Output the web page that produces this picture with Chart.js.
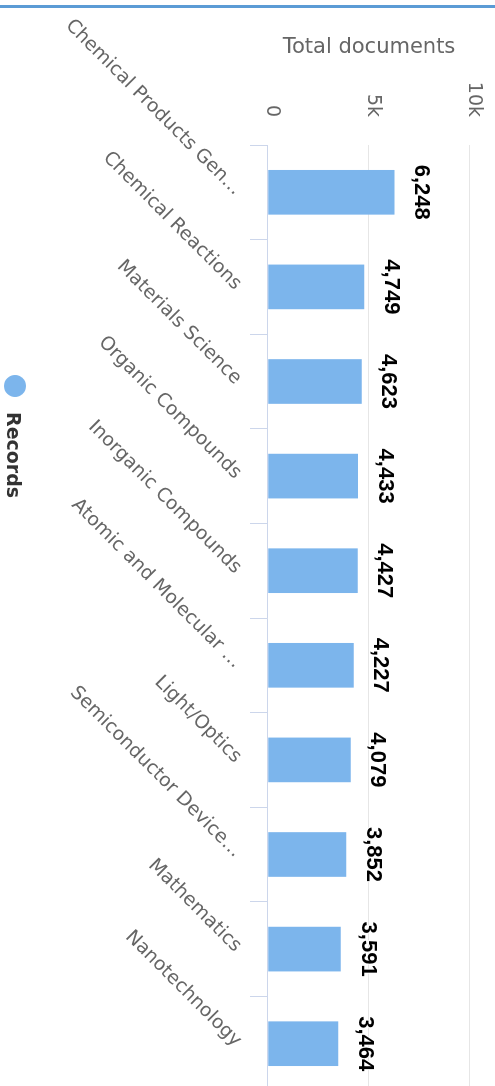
<!DOCTYPE html>
<html><head><meta charset="utf-8">
<script src="https://cdn.jsdelivr.net/npm/chart.js@4.4.0/dist/chart.umd.min.js"></script>
<style>
html,body{margin:0;padding:0;background:#fff;overflow:hidden;width:495px;height:1086px;}
#rot{position:absolute;left:0;top:0;width:1100px;height:495px;transform-origin:0 0;transform:translate(495px,0) rotate(90deg);}
#c{position:absolute;left:0;top:0;}
#legend{position:absolute;left:375px;top:469px;height:22px;font:bold 19px "DejaVu Sans";color:#333;white-space:nowrap;}
#legend .dot{position:absolute;left:0;top:0;width:22px;height:22px;border-radius:50%;background:#7cb5ec;}
#legend .txt{position:absolute;left:37px;top:1px;line-height:22px;}
#topline{position:absolute;left:0;top:5px;width:495px;height:3px;background:#5b9bd5;}
</style></head>
<body>
<div id="rot"><canvas id="c" width="1100" height="495"></canvas>
<div id="legend"><span class="dot"></span><span class="txt" id="legtxt"></span></div></div>
<div id="topline"></div>
<script>
const categories = [
  'Chemical Products Gen…',
  'Chemical Reactions',
  'Materials Science',
  'Organic Compounds',
  'Inorganic Compounds',
  'Atomic and Molecular …',
  'Light/Optics',
  'Semiconductor Device…',
  'Mathematics',
  'Nanotechnology'
];
const records = [6248, 4749, 4623, 4433, 4427, 4227, 4079, 3852, 3591, 3464];
const valueTicks = [0, 5000, 10000];
const seriesName = 'Records';
const axisTitle = 'Total documents';

document.getElementById('legtxt').textContent = seriesName;

const FONT = 'DejaVu Sans';

const dataLabels = {
  id: 'dataLabels',
  afterDatasetsDraw(chart) {
    const ctx = chart.ctx;
    const meta = chart.getDatasetMeta(0);
    ctx.save();
    ctx.font = 'bold 22px "Liberation Sans"';
    ctx.textAlign = 'center';
    ctx.textBaseline = 'alphabetic';
    ctx.lineJoin = 'round';
    meta.data.forEach((bar, i) => {
      const txt = records[i].toLocaleString('en-US');
      ctx.strokeStyle = '#fff';
      ctx.lineWidth = 2;
      ctx.strokeText(txt, bar.x, bar.y - 21);
      ctx.fillStyle = '#000';
      ctx.fillText(txt, bar.x, bar.y - 21);
    });
    ctx.restore();
  }
};

new Chart(document.getElementById('c'), {
  type: 'bar',
  data: {
    labels: categories,
    datasets: [{
      label: seriesName,
      data: records,
      backgroundColor: '#7cb5ec',
      borderWidth: 0,
      barThickness: 44,
      categoryPercentage: 1,
      barPercentage: 0.47
    }]
  },
  options: {
    responsive: false,
    animation: false,
    devicePixelRatio: 1,
    layout: { padding: { left: 0, right: 9, top: 25, bottom: 0 } },
    plugins: { legend: { display: false }, tooltip: { enabled: false } },
    scales: {
      x: {
        type: 'category',
        offset: true,
        grid: { offset: true, drawOnChartArea: false, drawTicks: true, tickLength: 18, color: '#ccd6eb', lineWidth: 1 },
        border: { display: true, color: '#ccd6eb', width: 1 },
        ticks: { autoSkip: false, minRotation: 45, maxRotation: 45, color: '#666', font: { family: FONT, size: 19 }, padding: 4 },
        afterFit: s => { s.height = 268; }
      },
      y: {
        min: valueTicks[0],
        max: valueTicks[valueTicks.length - 1],
        afterBuildTicks: s => { s.ticks = valueTicks.map(v => ({ value: v })); },
        ticks: {
          callback: v => v === 0 ? '0' : (v / 1000) + 'k',
          color: '#666', font: { family: FONT, size: 19 }, padding: 28, labelOffset: -4
        },
        grid: { color: '#e6e6e6', drawTicks: false, lineWidth: 1 },
        border: { display: false },
        title: { display: true, text: axisTitle, color: '#666', font: { family: FONT, size: 21 }, padding: { top: 35, bottom: 0 } },
        afterFit: s => { s.width = 145; s.paddingTop = 0; s.paddingBottom = 0; }
      }
    }
  },
  plugins: [dataLabels]
});
</script>
</body></html>
